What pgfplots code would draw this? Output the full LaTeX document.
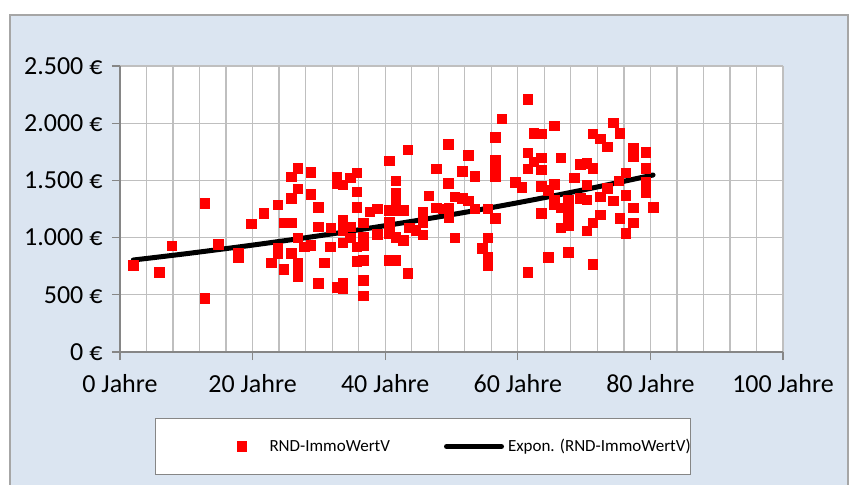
\documentclass[border=0pt]{standalone}
\usepackage{fontspec}
\setmainfont{Carlito}
\usepackage{pgfplots}
\pgfplotsset{compat=1.18}
\definecolor{bgblue}{HTML}{DBE5F1}
\definecolor{gridgray}{HTML}{BFBFBF}
\definecolor{axisgray}{HTML}{868686}
\definecolor{framegray}{HTML}{A6A6A6}
\pgfplotsset{
  scatlegend/.style={legend image code/.code={\path (-86pt,0pt) (27pt,0pt); \draw[##1] plot coordinates {(0pt,0pt)};}},
  linelegend/.style={legend image code/.code={\path (-54pt,0pt) (59pt,0pt); \draw[##1] (0pt,0pt) -- (55pt,0pt);}},
}

\begin{document}
\begin{tikzpicture}[x=1pt,y=1pt]
\useasboundingbox (-120,-132) rectangle (730,352);
\fill[bgblue] (-110,-140) rectangle (728,337);
\draw[framegray,line width=1.2pt] (-110,-140) -- (-110,337) -- (728,337) -- (728,-140);
\begin{axis}[
  at={(0pt,0pt)}, anchor=south west,
  scale only axis, width=663pt, height=286pt,
  xmin=0, xmax=100, ymin=0, ymax=2500,
  axis background/.style={fill=white},
  axis x line*=bottom, axis y line*=left,
  axis line style={axisgray,line width=1.3pt,-},
  xtick={0,20,...,100},
  xticklabels={0 Jahre,20 Jahre,40 Jahre,60 Jahre,80 Jahre,100 Jahre},
  ytick={0,500,...,2500},
  yticklabels={0 €,500 €,1.000 €,1.500 €,2.000 €,2.500 €},
  minor x tick num=4,
  grid=both,
  major grid style={gridgray,line width=1.3pt},
  minor grid style={gridgray,line width=1.3pt},
  tick align=outside, major tick length=8pt, minor tick length=0pt,
  tick style={axisgray,line width=1.3pt},
  tick label style={font=\fontsize{26}{30}\selectfont, black},
  yticklabel style={xshift=-6pt},
  xticklabel style={yshift=-11pt},
  legend columns=2,
  legend cell align=left,
  legend style={at={(axis description cs:0.0528,-0.2308)}, anchor=north west,
    draw=axisgray, line width=1pt, fill=white, inner xsep=0pt, inner ysep=21pt,
    font=\fontsize{17}{20}\selectfont,
    nodes={inner sep=0pt},
    /tikz/every even column/.style={column sep=0pt},
    /tikz/every odd column/.style={column sep=0pt}},
]
\addplot[only marks, mark=square*, red, mark size=4.7pt, scatlegend]
coordinates {
(2,760)(5.9,699)(7.8,927)(12.8,472)(12.8,1302)(14.8,944)(17.8,865)(17.8,830)
(19.8,1119)(21.7,1215)(22.8,778)(23.8,1285)(23.8,909)(23.8,865)(24.7,1128)(24.7,725)
(25.8,1530)(26.8,1608)(26.8,1425)(25.8,1346)(25.8,1128)(25.8,865)(26.8,997)(26.8,778)
(26.8,743)(26.8,656)(27.8,918)(28.8,1573)(28.8,1381)(28.8,935)(29.9,1267)(29.9,1093)
(29.9,603)(30.8,778)(31.8,1084)(31.7,918)(32.7,1530)(32.7,1477)(33.6,1460)(32.7,568)
(33.6,603)(33.6,559)(33.6,1154)(33.6,1066)(33.6,953)(34.7,1521)(35.7,1565)(35.7,1399)
(35.7,1267)(34.7,1093)(34.7,997)(35.7,918)(35.7,795)(36.7,1128)(36.7,1005)(36.7,935)
(36.7,804)(36.7,629)(36.7,490)(37.7,1224)(38.8,1250)(38.8,1031)
(40.6,1670)(41.6,1495)(41.6,1390)(41.6,1311)(40.6,1241)(41.6,1241)(40.6,1136)(40.6,1040)
(41.6,1005)(42.7,1241)(42.7,979)(40.6,804)(41.6,804)(43.4,1766)(43.4,690)
(43.6,1084)(44.6,1066)(45.7,1023)(45.7,1224)(45.7,1136)(46.6,1364)(47.7,1600)(47.7,1259)
(48.7,1250)(49.5,1818)(49.5,1477)(49.6,1259)(49.6,1180)(50.5,1355)(50.5,997)(51.6,1582)
(51.6,1346)(52.5,1722)(52.5,1320)(53.5,1538)(53.5,1250)(54.6,909)(55.5,1250)(55.5,997)
(55.5,830)(55.5,760)(56.6,1879)(56.6,1678)(56.6,1617)(56.6,1530)(56.6,1171)(57.6,2040)
(59.6,1486)(60.6,1442)(61.5,1740)(61.5,1600)(61.5,699)(61.5,2211)(62.4,1914)(62.4,1661)
(63.5,1215)(63.5,1906)(65.5,1976)(63.5,1696)(63.5,1591)(63.5,1451)(64.6,1416)(65.5,1468)
(66.5,1696)(64.6,830)(65.5,1285)(66.5,1259)(65.5,1329)(67.6,1329)(67.6,1267)(67.6,1198)
(66.5,1084)(67.6,1110)(67.6,874)(68.5,1521)(69.4,1643)(70.4,1652)(69.4,1346)(70.4,1329)
(70.4,1460)(70.4,1058)(71.3,1906)(72.4,1862)(73.5,1792)(71.3,1608)(71.3,1128)(71.3,769)
(72.4,1355)(72.4,1198)(73.5,1433)(74.4,2002)(75.4,1914)(74.4,1320)(75.4,1171)(75.2,1495)
(76.3,1565)(76.3,1372)(76.3,1040)(77.4,1783)(77.4,1705)(77.4,1259)(77.4,1128)(79.3,1748)
(79.3,1608)(79.3,1486)(79.3,1390)(80.4,1267)
};
\addlegendentry{RND-ImmoWertV}
\addplot[black, line width=5pt, line cap=round, smooth, no markers, linelegend]
coordinates {
(2,804)(10,859.5)(20,934.4)(30,1015.7)(40,1104.2)(50,1200.3)(60,1304.8)(70,1418.4)(80.4,1547.1)
};
\addlegendentry{Expon. (RND-ImmoWertV)\hspace{22pt}}
\end{axis}
\end{tikzpicture}
\end{document}
